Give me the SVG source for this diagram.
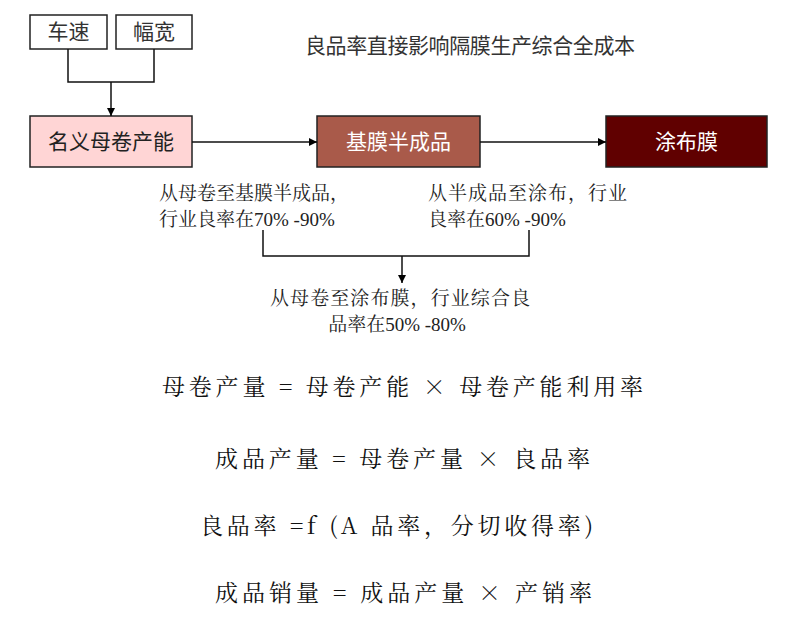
<svg xmlns="http://www.w3.org/2000/svg" width="800" height="625" viewBox="0 0 800 625">
<defs>
<marker id="ah" viewBox="0 0 10 10" refX="10" refY="5" markerWidth="8" markerHeight="8" markerUnits="userSpaceOnUse" orient="auto">
<path d="M0,0 L10,5 L0,10 z" fill="#000"/>
</marker>
<style>
.box{stroke:#222;stroke-width:1.5}
.sans{font-family:"Noto Sans CJK SC","Liberation Sans",sans-serif;font-size:21px}
.ser{font-family:"Liberation Serif","Noto Serif CJK SC","Noto Sans CJK SC",serif;font-size:19px;fill:#222}
.f{font-family:"Noto Serif CJK SC","Liberation Serif","Noto Sans CJK SC",serif;font-size:23px;fill:#111}
.ln{fill:none;stroke:#111;stroke-width:1.5}
</style>
</defs>
<rect width="800" height="625" fill="#fff"/>
<g id="title"><text class="sans" x="305" y="53" fill="#333" font-size="19" textLength="330" lengthAdjust="spacing">良品率直接影响隔膜生产综合全成本</text></g>
<g id="n-chesu"><rect class="box" x="30" y="15" width="77" height="34" fill="#fff"/><text class="sans" x="68.5" y="39" text-anchor="middle" fill="#333">车速</text></g>
<g id="n-fukuan"><rect class="box" x="116" y="15" width="76" height="34" fill="#fff"/><text class="sans" x="154" y="39" text-anchor="middle" fill="#333">幅宽</text></g>
<g id="n-mingyi"><rect class="box" x="30" y="116" width="162" height="51" fill="#ffd5d5"/><text class="sans" x="111" y="149" text-anchor="middle" fill="#222">名义母卷产能</text></g>
<g id="n-jimo"><rect class="box" x="317" y="116" width="163" height="51" fill="#a95a4a"/><text class="sans" x="398.5" y="149" text-anchor="middle" fill="#fff">基膜半成品</text></g>
<g id="n-tubu"><rect class="box" x="606" y="116" width="161" height="51" fill="#600000"/><text class="sans" x="686.5" y="149" text-anchor="middle" fill="#fff">涂布膜</text></g>
<g id="connectors">
<path class="ln" d="M68,49 V82 H154 V49"/>
<path class="ln" d="M111,82 V116" marker-end="url(#ah)"/>
<path class="ln" d="M192,142 H317" marker-end="url(#ah)"/>
<path class="ln" d="M480,142 H606" marker-end="url(#ah)"/>
<path class="ln" d="M263,230 V256 H529 V230"/>
<path class="ln" d="M402,256 V283" marker-end="url(#ah)"/>
</g>
<g id="notes">
<text class="ser" x="159" y="200" textLength="190" lengthAdjust="spacing">从母卷至基膜半成品，</text>
<text class="ser" x="159" y="226">行业良率在70% -90%</text>
<text class="ser" x="428" y="200" textLength="199" lengthAdjust="spacing">从半成品至涂布，行业</text>
<text class="ser" x="428" y="226">良率在60% -90%</text>
<text class="ser" x="270" y="305" textLength="260" lengthAdjust="spacing">从母卷至涂布膜，行业综合良</text>
<text class="ser" x="397" y="331" text-anchor="middle">品率在50% -80%</text>
</g>
<g id="formulas">
<text class="f" x="162" y="395" textLength="481" lengthAdjust="spacing">母卷产量 = 母卷产能 × 母卷产能利用率</text>
<text class="f" x="215" y="467" textLength="375" lengthAdjust="spacing">成品产量 = 母卷产量 × 良品率</text>
<text class="f" x="200" y="534" textLength="393" lengthAdjust="spacing">良品率 =f (A 品率，分切收得率)</text>
<text class="f" x="215" y="601" textLength="377" lengthAdjust="spacing">成品销量 = 成品产量 × 产销率</text>
</g>
</svg>
